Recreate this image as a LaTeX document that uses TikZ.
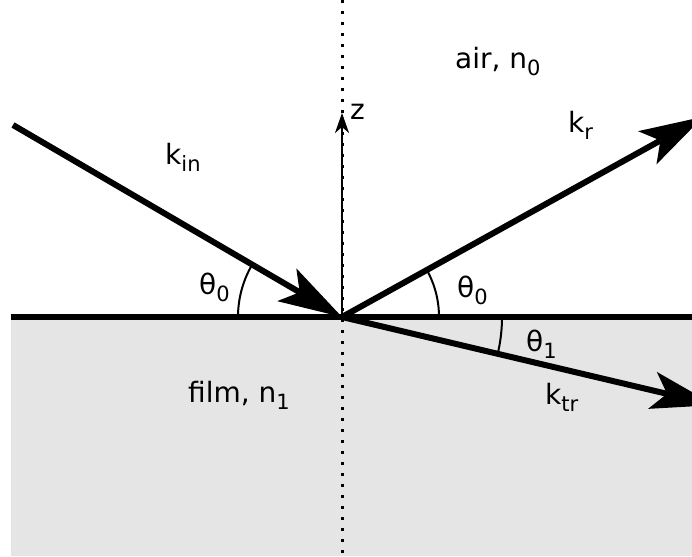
\documentclass[tikz,border=0pt]{standalone}
\usepackage{fontspec}
\setmainfont{DejaVu Sans}
\usetikzlibrary{arrows.meta}
\newcommand\lowidx[1]{\raisebox{-7pt}{\fontsize{21}{24}\selectfont #1}}

\begin{document}
\begin{tikzpicture}[
  x=1pt, y=1pt,
  every node/.style={font=\fontsize{28}{32}\selectfont, inner sep=0pt},
  lbl/.style={anchor=base west},
  ray/.style={line width=6pt, -{Stealth[length=64pt, width=38pt, inset=15pt, line width=0pt]}},
  surface/.style={line width=6pt},
  axis/.style={line width=3pt, dash pattern=on 3pt off 8pt},
  zarr/.style={line width=2pt, -{Stealth[length=20pt, width=14pt, inset=6pt]}},
  angarc/.style={line width=2pt},
]
\useasboundingbox (0,0) rectangle (692,556);
\clip (0,0) rectangle (692,556);

% === Media ===
\fill[gray!20] (11,0) rectangle (692,239);
\coordinate (O) at (342,239);

% === Normal and z axis ===
\coordinate (top) at (342,556);
\coordinate (bot) at (342,0);
\coordinate (ztip) at (342,443);
\draw[axis] (top) -- (bot);
\draw[zarr] (O) -- (ztip);
\node[lbl] (z) at (350,436) {z};

% === Interface ===
\coordinate (left) at (11,239);
\coordinate (right) at (692,239);
\draw[surface] (left) -- (right);

% === Wave vectors ===
\coordinate (src) at (13,431);
\path (O) ++(29:413) coordinate (refl);
\path (O) ++(-13.3:383) coordinate (trans);
\draw[ray] (src) -- (O);
\draw[ray] (O) -- (refl);
\draw[ray] (O) -- (trans);

% === Angles ===
\draw[angarc] ([shift={(180:104)}]O) arc[start angle=180, end angle=150, radius=104];
\draw[angarc] ([shift={(0:97)}]O) arc[start angle=0, end angle=29, radius=97];
\draw[angarc] ([shift={(0:160)}]O) arc[start angle=0, end angle=-13.3, radius=160];

% === Labels ===
\node[lbl] (kin) at (165,391) {k\lowidx{in}};
\node[lbl] (kr) at (568,423) {k\lowidx{r}};
\node[lbl] (ktr) at (545,151) {k\lowidx{tr}};
\node[lbl] (th0l) at (199,261) {θ\lowidx{0}};
\node[lbl] (th0r) at (457,258) {θ\lowidx{0}};
\node[lbl] (th1) at (526,204) {θ\lowidx{1}};
\node[lbl] (air) at (455,487) {air, n\lowidx{0}};
\node[lbl] (film) at (188,153) {film, n\lowidx{1}};

\end{tikzpicture}
\end{document}
